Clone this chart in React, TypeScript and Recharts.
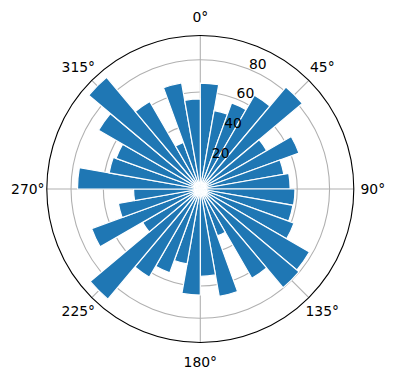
import {
  RadialBarChart,
  RadialBar,
  PolarAngleAxis,
  PolarRadiusAxis,
  PolarGrid,
} from 'recharts';

// bin centres (degrees, clockwise from north), 10° wide bins
const binCenters = [
  5, 15, 25, 35, 45, 55, 65, 75, 85, 95, 105, 115, 125, 135, 145, 155, 165, 175,
  185, 195, 205, 215, 225, 235, 245, 255, 265, 275, 285, 295, 305, 315, 325, 335, 345, 355,
];
const radii = [
  65.5, 49.3, 56.7, 67, 82.4, 47.5, 65, 52.5, 55.6, 58.6, 58.2, 61.7, 78, 79.7, 63.8, 30.9, 67.5, 54,
  65.6, 47.1, 55.2, 63, 89, 41.3, 71.6, 51.5, 41.3, 76, 57.3, 55.5, 72.7, 90.2, 62.6, 30.7, 66.7, 55.7,
];
// 360 is drawn as "0°"
const angleTicks = [45, 90, 135, 180, 225, 270, 315, 360];
const radiusTicks = [20, 40, 60, 80];

const rMax = Math.max(...radii) * 1.05;
// end = upper edge of each bin, keeps the degree axis inside its domain
const data = binCenters.map((bin, i) => ({ bin, end: bin + 5, r: radii[i] }));

const FONT = 'DejaVu Sans, sans-serif';

function AngleTick({ x, y, payload }: any) {
  return (
    <text x={x} y={y} textAnchor="middle" dominantBaseline="central" fontFamily={FONT} fontSize={13.9} fill="#000">
      {`${payload.value % 360}°`}
    </text>
  );
}

function RadiusTick({ x, y, payload }: any) {
  return (
    <text x={x + 8} y={y - 6} textAnchor="middle" dominantBaseline="central" fontFamily={FONT} fontSize={13.9} fill="#000">
      {payload.value}
    </text>
  );
}

export default function App() {
  return (
    <div style={{ position: 'absolute', left: 0, top: 0, background: '#fff' }}>
      {/* the category band axis starts one bin late, so the whole chart is turned by 10° */}
      <RadialBarChart
        width={396}
        height={380}
        cx={200.3}
        cy={189}
        innerRadius={0}
        outerRadius={153.5}
        startAngle={80}
        endAngle={-280}
        layout="centric"
        data={data}
        barCategoryGap={0}
        barGap={0}
        margin={{ top: 0, right: 0, bottom: 0, left: 0 }}
      >
        <PolarAngleAxis type="category" dataKey="bin" tick={false} tickLine={false} axisLine={false} />
        <PolarAngleAxis
          angleAxisId="deg"
          type="number"
          dataKey="end"
          domain={[10, 370]}
          allowDataOverflow
          ticks={angleTicks}
          tick={<AngleTick />}
          tickLine={false}
          tickSize={19}
          axisLineType="circle"
          axisLine={{ stroke: '#000', strokeWidth: 1.1 }}
          stroke="#000"
        />
        <PolarRadiusAxis
          type="number"
          angle={67.5}
          domain={[0, rMax]}
          ticks={radiusTicks}
          tick={<RadiusTick />}
          tickLine={false}
          axisLine={false}
        />
        <RadialBar dataKey="r" fill="#1f77b4" stroke="#fff" strokeWidth={1.2} isAnimationActive={false} />
        <PolarGrid gridType="circle" angleAxisId="deg" stroke="#b0b0b0" strokeWidth={1.1} />
      </RadialBarChart>
    </div>
  );
}
